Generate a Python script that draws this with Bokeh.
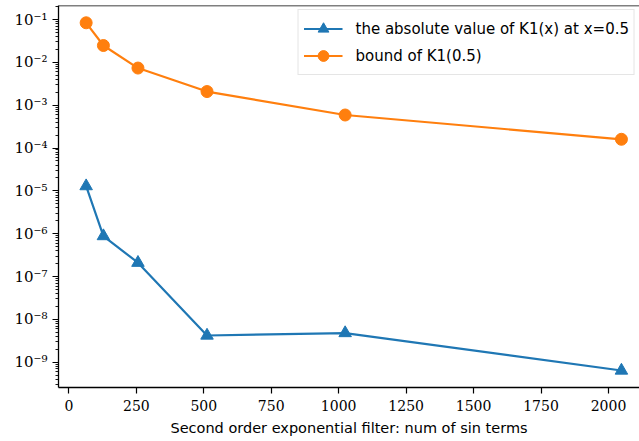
from bokeh.plotting import figure
from bokeh.models import Range1d, FixedTicker, CustomJSTickFormatter, Legend, LegendItem, Span
from bokeh.embed import file_html
from bokeh.resources import INLINE

# data
n_terms = [64, 128, 256, 512, 1024, 2048]
abs_k1 = [1.29e-5, 8.8e-7, 2.1e-7, 4.2e-9, 4.8e-9, 6.4e-10]
bound_k1 = [8.38e-2, 2.47e-2, 7.36e-3, 2.08e-3, 5.9e-4, 1.6e-4]
x_ticks = [0, 250, 500, 750, 1000, 1250, 1500, 1750, 2000]
y_ticks = [1e-9, 1e-8, 1e-7, 1e-6, 1e-5, 1e-4, 1e-3, 1e-2, 1e-1]
label_abs = "the absolute value of K1(x) at x=0.5"
label_bound = "bound of K1(0.5)"
x_label = "Second order exponential filter: num of sin terms"

BLUE = "#1f77b4"
ORANGE = "#ff7f0e"
Y_TOP = 10 ** -0.673
Y_BOTTOM = 10 ** -9.59

p = figure(width=639, height=441, y_axis_type="log",
           x_range=Range1d(-38.5, 2115), y_range=Range1d(Y_BOTTOM, Y_TOP),
           output_backend="svg", toolbar_location=None,
           min_border_left=58, min_border_right=0, min_border_top=5, min_border_bottom=54)
p.outline_line_color = None
p.xgrid.visible = False
p.ygrid.visible = False
p.background_fill_color = "white"
p.border_fill_color = "white"

l1 = p.line(n_terms, abs_k1, line_color=BLUE, line_width=2.2)
m1 = p.scatter(n_terms, abs_k1, marker="triangle", size=12.5, fill_color=BLUE, line_color=BLUE)
l2 = p.line(n_terms, bound_k1, line_color=ORANGE, line_width=2.2)
m2 = p.scatter(n_terms, bound_k1, marker="circle", size=12, fill_color=ORANGE, line_color=ORANGE)

top_spine = Span(location=Y_TOP, dimension="width", line_color="black", line_width=1.3)
p.add_layout(top_spine)

xa = p.xaxis[0]
xa.ticker = FixedTicker(ticks=x_ticks)
xa.minor_tick_line_color = None
xa.major_tick_out = 6
xa.major_tick_in = 0
xa.major_label_standoff = 6
xa.major_label_text_font = "DejaVu Serif"
xa.major_label_text_font_size = "14px"
xa.major_label_text_color = "black"
xa.axis_label = x_label
xa.axis_label_text_font = "DejaVu Sans"
xa.axis_label_text_font_size = "14.5px"
xa.axis_label_text_font_style = "normal"
xa.axis_label_text_color = "black"
xa.axis_label_standoff = 6
xa.axis_line_color = "black"
xa.axis_line_width = 1.3
xa.major_tick_line_color = "black"
xa.major_tick_line_width = 1.2

ya = p.yaxis[0]
ya.ticker = FixedTicker(ticks=y_ticks, minor_ticks=[m * 10.0 ** e for e in range(-10, 0) for m in range(2, 10)])
ya.formatter = CustomJSTickFormatter(code="""
const sup = {'-':'\u207b','0':'\u2070','1':'\u00b9','2':'\u00b2','3':'\u00b3','4':'\u2074','5':'\u2075','6':'\u2076','7':'\u2077','8':'\u2078','9':'\u2079'};
const e = Math.round(Math.log10(tick));
return '10' + String(e).split('').map(c => sup[c]).join('');
""")
ya.major_tick_out = 6
ya.major_tick_in = 0
ya.minor_tick_out = 3
ya.minor_tick_in = 0
ya.major_label_standoff = 5
ya.major_label_text_font = "DejaVu Serif"
ya.major_label_text_font_size = "15px"
ya.major_label_text_color = "black"
ya.axis_line_color = "black"
ya.axis_line_width = 1.3
ya.major_tick_line_color = "black"
ya.major_tick_line_width = 1.2
ya.minor_tick_line_color = "black"
ya.minor_tick_line_width = 0.9

legend = Legend(items=[LegendItem(label=label_abs, renderers=[l1, m1]),
                       LegendItem(label=label_bound, renderers=[l2, m2])],
                location="top_right", margin=4, padding=5, spacing=0,
                glyph_width=39, glyph_height=27, label_standoff=13,
                label_text_font="DejaVu Sans", label_text_font_size="15px",
                label_text_color="black",
                border_line_color="#cccccc", border_line_width=1,
                background_fill_alpha=0.8)
p.add_layout(legend)

open("out.html", "w").write(file_html(p, INLINE))
